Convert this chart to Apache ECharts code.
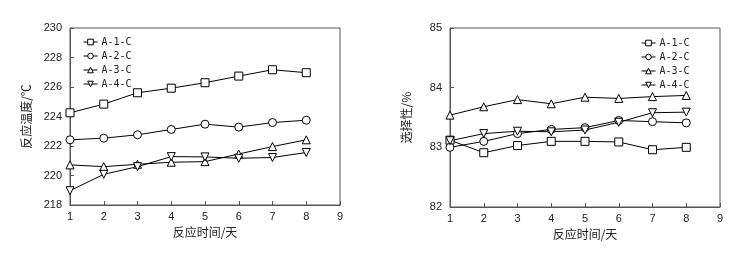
<!DOCTYPE html>
<html><head><meta charset="utf-8">
<script src="https://cdn.jsdelivr.net/npm/echarts@6/dist/echarts.min.js"></script>
<style>html,body{margin:0;padding:0;background:#fff}#c{width:747px;height:255px}</style>
</head><body><div id="c"></div>
<script>
const days = [1, 2, 3, 4, 5, 6, 7, 8];
const seriesNames = ['A-1-C', 'A-2-C', 'A-3-C', 'A-4-C'];
// Left chart: reaction temperature (℃)
const tempA1 = [224.25, 224.84, 225.61, 225.92, 226.29, 226.74, 227.17, 226.97];
const tempA2 = [222.42, 222.53, 222.76, 223.12, 223.48, 223.28, 223.59, 223.75];
const tempA3 = [220.72, 220.60, 220.76, 220.90, 220.94, 221.46, 221.96, 222.42];
const tempA4 = [218.97, 220.08, 220.60, 221.28, 221.26, 221.17, 221.22, 221.56];
// Right chart: selectivity (%)
const selA1 = [83.12, 82.91, 83.03, 83.10, 83.10, 83.09, 82.96, 83.00];
const selA2 = [83.00, 83.10, 83.23, 83.30, 83.33, 83.45, 83.43, 83.41];
const selA3 = [83.54, 83.68, 83.80, 83.73, 83.84, 83.82, 83.85, 83.87];
const selA4 = [83.11, 83.23, 83.27, 83.26, 83.29, 83.42, 83.58, 83.59];
const xTitle = '反应时间/天';
const yTitleLeft = '反应温度/℃';
const yTitleRight = '选择性/%';

const symbols = [
  {symbol: 'rect', rot: 0},
  {symbol: 'circle', rot: 0},
  {symbol: 'triangle', rot: 0},
  {symbol: 'triangle', rot: 180}
];
const axisColor = '#555';
const labelStyle = {color: '#222', fontSize: 11, fontFamily: 'Liberation Sans, Arial, sans-serif'};

function xAxis(gi) {
  return {
    type: 'value', gridIndex: gi, min: 1, max: 9, interval: 1,
    name: xTitle, nameLocation: 'middle', nameGap: 21,
    nameTextStyle: {color: '#222', fontSize: 12, fontFamily: 'Noto Sans CJK SC'},
    axisLine: {show: true, lineStyle: {color: axisColor, width: 1}},
    axisTick: {show: true, inside: true, length: 4, lineStyle: {color: axisColor}},
    axisLabel: Object.assign({margin: 6}, labelStyle),
    splitLine: {show: false}
  };
}
function yAxis(gi, min, max, interval, title) {
  return {
    type: 'value', gridIndex: gi, min: min, max: max, interval: interval,
    name: title, nameLocation: 'middle', nameGap: 38, nameRotate: 90,
    nameTextStyle: {color: '#222', fontSize: 12, fontFamily: 'Noto Sans CJK SC'},
    axisLine: {show: true, lineStyle: {color: axisColor, width: 1}},
    axisTick: {show: true, inside: true, length: 4, lineStyle: {color: axisColor}},
    axisLabel: Object.assign({margin: 8}, labelStyle),
    splitLine: {show: false}
  };
}
function mkSeries(name, data, idx, gi) {
  return {
    type: 'line', name: name, xAxisIndex: gi, yAxisIndex: gi,
    data: data.map((v, i) => [days[i], v]),
    symbol: symbols[idx].symbol, symbolRotate: symbols[idx].rot, symbolSize: 8,
    showAllSymbol: true,
    lineStyle: {color: '#000', width: 1},
    itemStyle: {color: '#fff', borderColor: '#000', borderWidth: 1},
    emphasis: {disabled: true},
    animation: false
  };
}
const leftData = [tempA1, tempA2, tempA3, tempA4];
const rightData = [selA1, selA2, selA3, selA4];
const series = [];
leftData.forEach((d, i) => series.push(mkSeries(seriesNames[i], d, i, 0)));
rightData.forEach((d, i) => series.push(mkSeries(seriesNames[i], d, i, 1)));

function legend(left, top) {
  return {
    data: seriesNames, orient: 'vertical', left: left, top: top,
    itemWidth: 14, itemHeight: 7, itemGap: 4, padding: 0,
    itemStyle: {color: '#fff', borderColor: '#000', borderWidth: 1},
    lineStyle: {color: '#000', width: 1},
    textStyle: {color: '#222', fontSize: 10, fontFamily: 'DejaVu Sans Mono', padding: [0, 0, 0, -1]},
    selectedMode: false
  };
}

const chart = echarts.init(document.getElementById('c'), null, {renderer: 'canvas'});
chart.setOption({
  animation: false,
  backgroundColor: '#fff',
  grid: [
    {left: 70, right: 407, top: 28, bottom: 50, show: true, borderColor: axisColor, borderWidth: 1},
    {left: 450, right: 27, top: 28, bottom: 48, show: true, borderColor: axisColor, borderWidth: 1}
  ],
  legend: [legend(83, 37), legend(641, 38)],
  xAxis: [xAxis(0), xAxis(1)],
  yAxis: [yAxis(0, 218, 230, 2, yTitleLeft), yAxis(1, 82, 85, 1, yTitleRight)],
  series: series
});
</script></body></html>
